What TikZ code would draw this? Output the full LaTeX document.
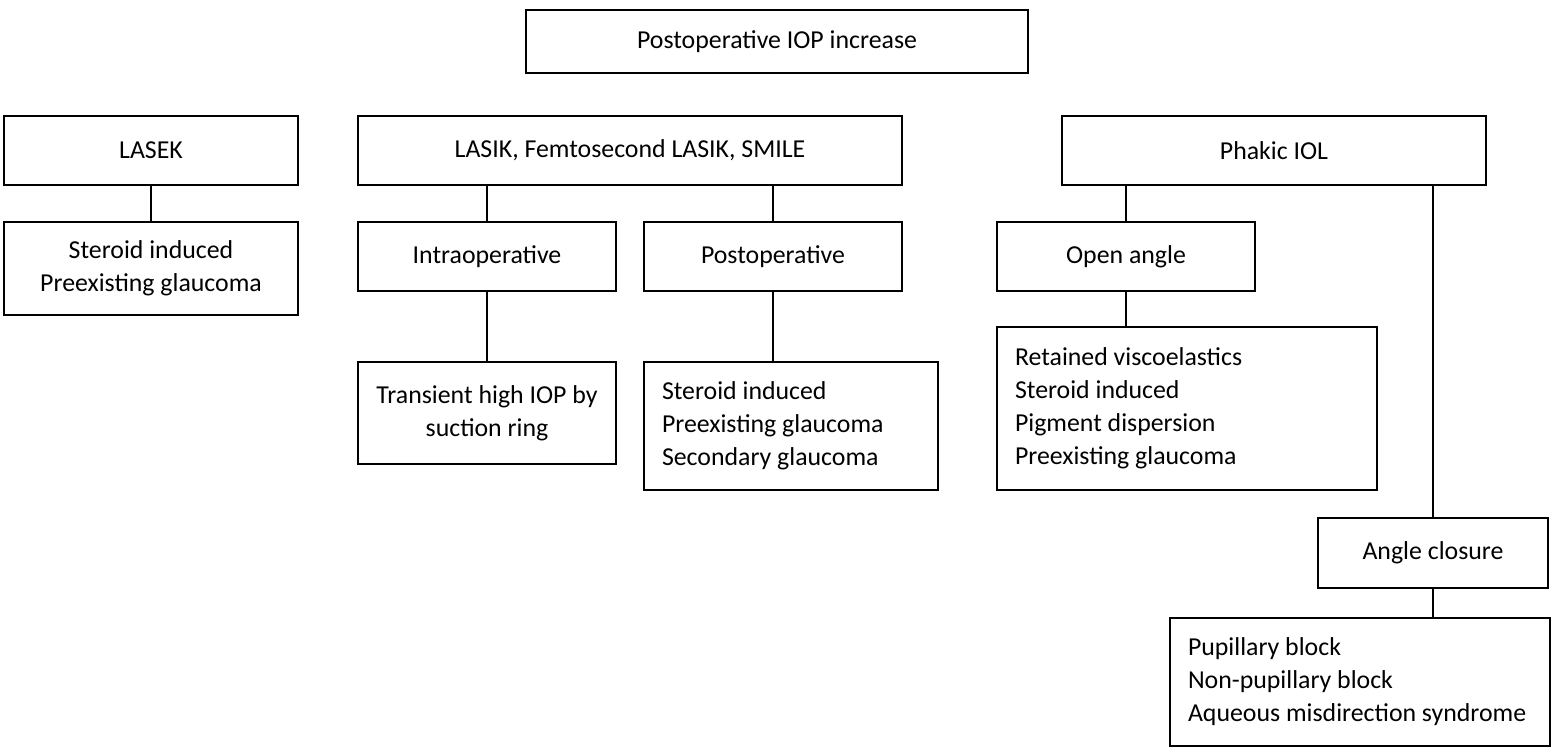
\documentclass[tikz,border=0pt]{standalone}
\usepackage{fontspec}
\setmainfont{Carlito}
\begin{document}
\begin{tikzpicture}[x=0.02cm, y=-0.02cm,
    every node/.style={draw, line width=1.1pt, inner sep=0pt, font=\fontsize{14.7}{18.8}\selectfont, align=center},
    link/.style={line width=1.1pt},
    listbox/.style 2 args={minimum height=#2*0.02cm, text width=#1*0.02cm-0.72cm, inner xsep=0.36cm, align=flush left}]
        \useasboundingbox (0,0) rectangle (1553,750);
        \node[minimum width=502*0.02cm, minimum height=63*0.02cm] (top) at (777,41.5) {Postoperative IOP increase};
        \node[minimum width=294*0.02cm, minimum height=69*0.02cm] (lasek) at (151,150.5) {LASEK};
        \node[minimum width=544*0.02cm, minimum height=69*0.02cm] (lasik) at (630,150.5) {LASIK, Femtosecond LASIK, SMILE};
        \node[minimum width=424*0.02cm, minimum height=69*0.02cm] (phakic) at (1274,150.5) {Phakic IOL};
        \node[minimum width=294*0.02cm, minimum height=93*0.02cm] (lasekc) at (151,268.5) {Steroid induced\\Preexisting glaucoma};
        \node[minimum width=258*0.02cm, minimum height=69*0.02cm] (intra) at (487,256.5) {Intraoperative};
        \node[minimum width=258*0.02cm, minimum height=69*0.02cm] (postop) at (773,256.5) {Postoperative};
        \node[minimum width=258*0.02cm, minimum height=69*0.02cm] (open) at (1126,256.5) {Open angle};
        \node[minimum width=258*0.02cm, minimum height=102*0.02cm] (trans) at (487,413) {Transient high IOP by\\suction ring};
        \node[listbox={294}{128}] (postc) at (791,426) {Steroid induced\\Preexisting glaucoma\\Secondary glaucoma};
        \node[listbox={380}{163}] (openc) at (1187,408.5) {Retained viscoelastics\\Steroid induced\\Pigment dispersion\\Preexisting glaucoma};
        \node[minimum width=230*0.02cm, minimum height=70*0.02cm] (closure) at (1433,553) {Angle closure};
        \node[listbox={380}{128}] (closc) at (1360,682) {Pupillary block\\Non-pupillary block\\Aqueous misdirection syndrome};
        \draw[link] (lasek) -- (lasekc);
        \draw[link] (intra.north) -- (intra.north |- lasik.south);
        \draw[link] (postop.north) -- (postop.north |- lasik.south);
        \draw[link] (intra) -- (trans);
        \draw[link] (postop.south) -- (postop.south |- postc.north);
        \draw[link] (open.north) -- (open.north |- phakic.south);
        \draw[link] (open) -- (open |- openc.north);
        \draw[link] (closure.north) -- (closure.north |- phakic.south);
        \draw[link] (closure.south) -- (closure.south |- closc.north);
\end{tikzpicture}
\end{document}
